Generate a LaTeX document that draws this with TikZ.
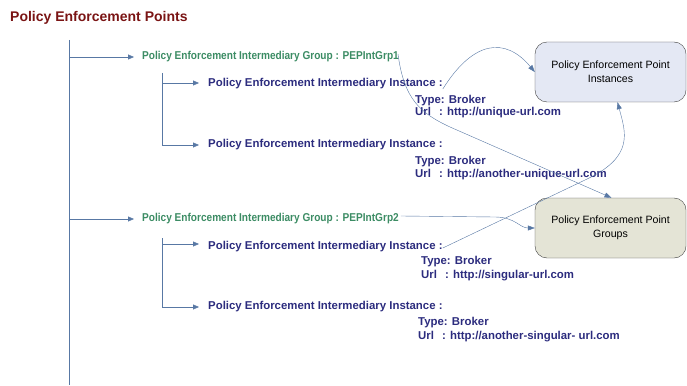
\documentclass[tikz,border=0pt]{standalone}
\usepackage{fontspec}
\setmainfont{Liberation Sans}
\newfontfamily\etroite[FakeStretch=0.885]{Liberation Sans}
\usetikzlibrary{arrows.meta}
\definecolor{titrerouge}{HTML}{7A1414}
\definecolor{vertgroupe}{HTML}{3C8C64}
\definecolor{bleuinst}{HTML}{2C2C7E}
\definecolor{bleutrait}{HTML}{5878A4}
\definecolor{fondinst}{HTML}{E4E8F4}
\definecolor{fondgrp}{HTML}{E4E4D6}
\begin{document}
\begin{tikzpicture}[
    x=1pt, y=-1pt,
    every node/.style={inner sep=0pt, anchor=west},
    titre/.style={text=titrerouge, font=\bfseries\fontsize{14}{16}\selectfont},
    groupe/.style={text=vertgroupe, font=\etroite\bfseries\fontsize{11.4}{13}\selectfont},
    instance/.style={text=bleuinst, font=\bfseries\fontsize{11.4}{13}\selectfont},
    detail/.style={text=bleuinst, font=\bfseries\fontsize{11.4}{13}\selectfont},
    boite/.style={draw=black!75, rounded corners=12pt, anchor=center, align=center,
        minimum width=151pt, minimum height=60pt, font=\fontsize{10.6}{14}\selectfont},
    branche/.style={draw=bleutrait, -{Triangle[length=6pt,width=5pt]}}, % fleches de l'arbre
    lien/.style={draw=bleutrait, -{Triangle[length=7pt,width=5pt]}}
]
\useasboundingbox (0,0) rectangle (687,385);
% Titre
\node[titre] (titre) at (10,18) {Policy Enforcement Points};
% Groupes
\node[groupe] (g1) at (142,57) {Policy Enforcement Intermediary Group : PEPIntGrp1};
\node[groupe] (g2) at (142,219) {Policy Enforcement Intermediary Group : PEPIntGrp2};
% Instances
\node[instance] (i11) at (208,84) {Policy Enforcement Intermediary Instance :};
\node[instance] (i12) at (208,145) {Policy Enforcement Intermediary Instance :};
\node[instance] (i21) at (208,247) {Policy Enforcement Intermediary Instance :};
\node[instance] (i22) at (208,307) {Policy Enforcement Intermediary Instance :};
% Details
\node[detail] (t11) at (415,101) {Type: Broker};
\node[detail] (u11) at (415,113) {Url\hspace{8pt}: http://unique-url.com};
\node[detail] (t12) at (415,162) {Type: Broker};
\node[detail] (u12) at (415,175) {Url\hspace{8pt}: http://another-unique-url.com};
\node[detail] (t21) at (421,262) {Type: Broker};
\node[detail] (u21) at (421,276) {Url\hspace{8pt}: http://singular-url.com};
\node[detail] (t22) at (418,323) {Type: Broker};
\node[detail] (u22) at (418,337) {Url\hspace{8pt}: http://another-singular- url.com};
% Boites
\node[boite, fill=fondinst] (inst) at (610.5,72) {Policy Enforcement Point\\Instances};
\node[boite, fill=fondgrp] (grp) at (610.5,228) {Policy Enforcement Point\\Groups};
% Arbre
\coordinate (racine) at (69,40);
\coordinate (bas) at (69,385);
\coordinate (s1) at (162,73);
\coordinate (s2) at (162,238);
\draw[bleutrait] (racine) -- (bas);
\draw[branche] (racine |- g1) -- ([xshift=-8pt]g1.west);
\draw[branche] (racine |- g2) -- ([xshift=-8pt]g2.west);
\draw[bleutrait] (s1) -- (s1 |- i12);
\draw[bleutrait] (s2) -- (s2 |- i22);
\draw[branche] ([yshift=1pt]s1 |- i11) -- ([xshift=-9pt,yshift=1pt]i11.west);
\draw[branche] (s1 |- i12) -- ([xshift=-9pt]i12.west);
\draw[branche] ([yshift=3pt]s2 |- i21) -- ([xshift=-9pt,yshift=3pt]i21.west);
\draw[branche] (s2 |- i22) -- ([xshift=-9pt]i22.west);
% Liens vers les boites
\draw[lien] ([xshift=-1pt,yshift=3pt]g1.east) .. controls +(6,45) and +(-30,-14) .. (450,127) -- ([xshift=1pt]grp.north);
\draw[lien] ([yshift=-5pt]i11.east) .. controls +(30,-48) and +(-30,-36) .. (inst.west);
\draw[lien] ([xshift=2pt,yshift=3pt]g2.east) -- (495,217) .. controls +(20,0) and +(-15,0) .. (grp.west);
\draw[lien] ([yshift=-1pt]i21.east) -- (585,180) .. controls +(50,-23) and +(8,30) .. ([xshift=7pt]inst.south);
\end{tikzpicture}
\end{document}
